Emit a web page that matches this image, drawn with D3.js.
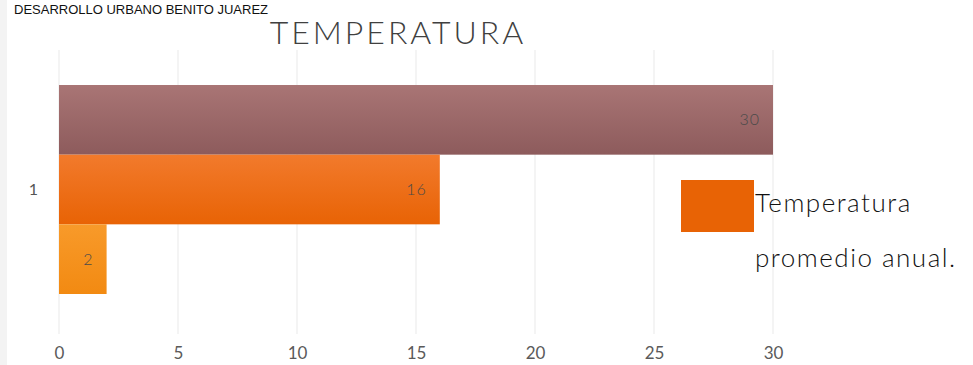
<!DOCTYPE html>
<html>
<head>
<meta charset="utf-8">
<script src="https://cdn.jsdelivr.net/npm/d3@7"></script>
<style>
  body { margin: 0; background: #fff; }
  svg { display: block; }
</style>
</head>
<body>
<svg id="chart" width="973" height="365"></svg>
<script>
// chart data
var categories = ["1"];
var seriesValues = [30, 16, 2];
var seriesColors = [["#a97575", "#8d5b5c"], ["#f27a2c", "#e86305"], ["#f89a2a", "#f28a12"]];
var xTicks = [0, 5, 10, 15, 20, 25, 30];
var legendLines = ["Temperatura", "promedio anual."];

var svg = d3.select("#chart");

// light strip on the left edge, like the scanned page
svg.append("rect").attr("x", 0).attr("y", 0).attr("width", 7).attr("height", 365)
  .style("fill", "#f3f3f3");

// header text (top of the scanned page)
svg.append("text").text("DESARROLLO URBANO BENITO JUAREZ")
  .attr("x", 14).attr("y", 14)
  .style("font-family", "Liberation Sans, Arial, sans-serif")
  .style("font-size", "13px")
  .style("fill", "#111");

var x = d3.scaleLinear().domain([0, 30]).range([59, 773]);
var yCat = d3.scaleBand().domain(categories).range([85, 294]);
var ySer = d3.scaleBand().domain(d3.range(seriesValues.length)).range([0, yCat.bandwidth()]).padding(0);

// gradients
var defs = svg.append("defs");
seriesColors.forEach(function(c, i) {
  var g = defs.append("linearGradient").attr("id", "grad" + i)
    .attr("x1", 0).attr("y1", 0).attr("x2", 0).attr("y2", 1);
  g.append("stop").attr("offset", "0%").attr("stop-color", c[0]);
  g.append("stop").attr("offset", "100%").attr("stop-color", c[1]);
});

// grid
var grid = svg.append("g").attr("class", "grid");
grid.selectAll("line").data(xTicks).enter().append("line")
  .attr("x1", function(d) { return x(d); }).attr("x2", function(d) { return x(d); })
  .attr("y1", 50).attr("y2", 334)
  .style("stroke", "#e9e9e9").style("stroke-width", 1);

// x axis labels
var xAxis = d3.axisBottom(x).tickValues(xTicks).tickSize(0).tickPadding(0);
var ax = svg.append("g").attr("transform", "translate(0,353)").call(xAxis);
ax.select(".domain").remove();
ax.selectAll("text")
  .style("font-family", "Lato, sans-serif").style("font-size", "17px")
  .style("fill", "#5a5a5a").attr("y", 0).attr("dy", "0.35em");

// y axis category label
var yAxis = d3.axisLeft(yCat).tickSize(0).tickPadding(0);
var ay = svg.append("g").attr("transform", "translate(38,0)").call(yAxis);
ay.select(".domain").remove();
ay.selectAll("text")
  .style("font-family", "Lato, sans-serif").style("font-size", "16px")
  .style("fill", "#555");

// bars
var bars = svg.append("g");
bars.selectAll("rect").data(seriesValues).enter().append("rect")
  .attr("x", x(0))
  .attr("y", function(d, i) { return yCat(categories[0]) + ySer(i); })
  .attr("width", function(d) { return x(d) - x(0); })
  .attr("height", ySer.bandwidth())
  .style("fill", function(d, i) { return "url(#grad" + i + ")"; });

// value labels
bars.selectAll("text").data(seriesValues).enter().append("text")
  .text(function(d) { return d; })
  .attr("x", function(d) { return x(d) - 13; })
  .attr("y", function(d, i) { return yCat(categories[0]) + ySer(i) + ySer.bandwidth() / 2; })
  .attr("dy", "0.35em")
  .attr("text-anchor", "end")
  .style("font-family", "Lato, sans-serif").style("font-size", "16px")
  .style("font-weight", "300")
  .style("letter-spacing", "1px")
  .style("fill", "#4a4a4a");

// title
svg.append("text").text("TEMPERATURA")
  .attr("x", 398).attr("y", 44).attr("text-anchor", "middle")
  .style("font-family", "Lato, sans-serif").style("font-size", "32px")
  .style("font-weight", "300")
  .style("letter-spacing", "3px")
  .style("fill", "#404040");

// legend
var leg = svg.append("g");
leg.append("rect").attr("x", 681).attr("y", 180).attr("width", 73).attr("height", 52)
  .style("fill", seriesColors[1][1]);
leg.selectAll("text").data(legendLines).enter().append("text")
  .text(function(d) { return d; })
  .attr("x", 755)
  .attr("y", function(d, i) { return 212 + i * 55; })
  .style("font-family", "Lato, sans-serif").style("font-size", "26px")
  .style("font-weight", "300")
  .style("letter-spacing", "1.5px")
  .style("fill", "#111");
</script>
</body>
</html>
